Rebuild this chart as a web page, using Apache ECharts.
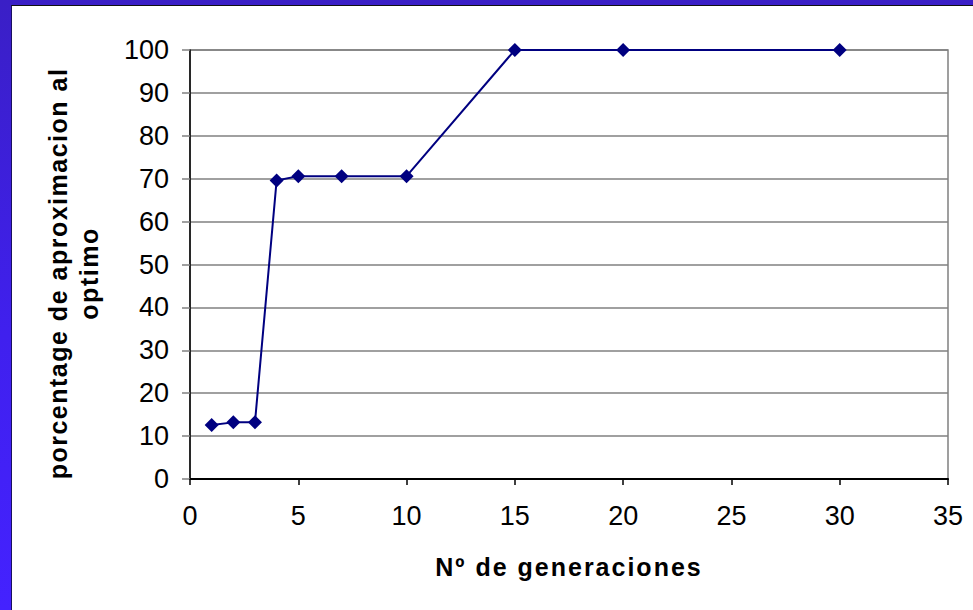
<!DOCTYPE html>
<html>
<head>
<meta charset="utf-8">
<title>aproximacion al optimo</title>
<script src="https://cdn.jsdelivr.net/npm/echarts@6/dist/echarts.min.js"></script>
<style>
  html, body { margin: 0; padding: 0; width: 973px; height: 610px; overflow: hidden; }
  /* marco azul de la diapositiva */
  #frame {
    position: absolute; left: 0; top: 0; width: 973px; height: 610px;
    background: linear-gradient(to bottom, #3a1fc6 0%, #4020ee 55%, #4422ff 100%);
  }
  #panel {
    position: absolute; left: 11px; top: 5px; width: 962px; height: 605px;
    background: #fff;
    border-left: 1px solid #1a1060; border-top: 1px solid #111;
    box-sizing: border-box;
  }
  #main { position: absolute; left: 0; top: 0; width: 973px; height: 610px; }
</style>
</head>
<body>
<div id="frame"></div>
<div id="panel"></div>
<div id="main"></div>
<script type="text/javascript">
// datos
var generaciones = [1, 2, 3, 4, 5, 7, 10, 15, 20, 30];
var porcentaje   = [12.6, 13.2, 13.2, 69.6, 70.6, 70.6, 70.6, 100, 100, 100];
var tituloX = 'Nº de generaciones';
var tituloY1 = 'porcentage de aproximacion al';
var tituloY2 = 'optimo';

var puntos = [];
for (var i = 0; i < generaciones.length; i++) {
  puntos.push([generaciones[i], porcentaje[i]]);
}

var chart = echarts.init(document.getElementById('main'), null, { renderer: 'svg' });
var option = {
  animation: false,
  textStyle: { fontFamily: 'Liberation Sans, Arial, sans-serif' },
  grid: {
    left: 190, right: 25, top: 50, bottom: 131,
    show: true, borderColor: '#808080', borderWidth: 1.5
  },
  xAxis: {
    type: 'value', min: 0, max: 35, interval: 5,
    name: tituloX, nameLocation: 'middle', nameGap: 75,
    nameTextStyle: { fontSize: 25, fontWeight: 'bold', color: '#000' },
    axisLine: { onZero: false, lineStyle: { color: '#000', width: 2 } },
    axisTick: { show: true, length: 6, lineStyle: { color: '#000', width: 1.5 } },
    axisLabel: { fontSize: 27, color: '#000', margin: 23 },
    splitLine: { show: false }
  },
  yAxis: {
    type: 'value', min: 0, max: 100, interval: 10,
    name: tituloY1 + '\n' + tituloY2, nameLocation: 'middle', nameGap: 86,
    nameTextStyle: { fontSize: 25, fontWeight: 'bold', color: '#000', lineHeight: 31, padding: [0, 18, 0, 0] },
    axisLine: { show: true, lineStyle: { color: '#000', width: 1.5 } },
    axisTick: { show: true, length: 8, lineStyle: { color: '#808080', width: 1.5 } },
    axisLabel: { fontSize: 27, color: '#000', margin: 21 },
    splitLine: { show: true, lineStyle: { color: '#808080', width: 1.5 } }
  },
  series: [{
    type: 'line',
    data: puntos,
    symbol: 'diamond', symbolSize: 14,
    itemStyle: { color: '#000080' },
    lineStyle: { color: '#000080', width: 2 }
  }]
};
chart.setOption(option);

// los titulos del original van con letras algo espaciadas
function espaciar() {
  var textos = document.querySelectorAll('#main text');
  for (var k = 0; k < textos.length; k++) {
    var t = textos[k].textContent;
    if (t === tituloX) textos[k].style.letterSpacing = '2px';
    if (t === tituloY1 || t === tituloY2) textos[k].style.letterSpacing = '1.5px';
  }
}
espaciar();
chart.on('finished', espaciar);
</script>
</body>
</html>
